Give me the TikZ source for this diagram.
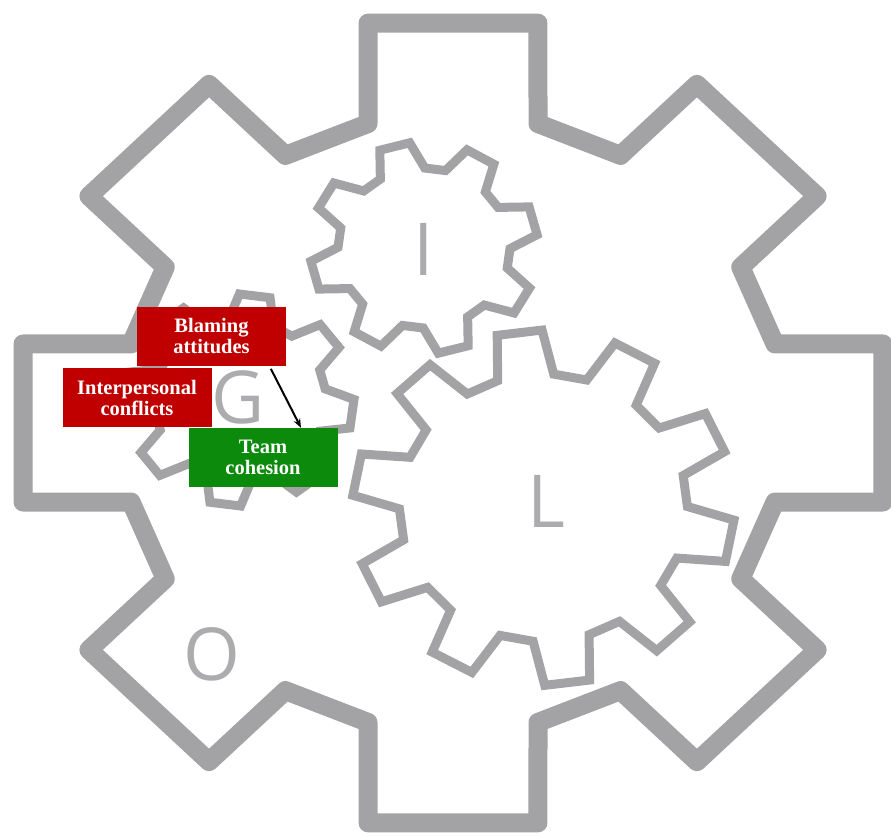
\documentclass[tikz,border=0pt]{standalone}
\usepackage{fontspec}
\usepackage{xcolor}
\usepackage{tikz}
\usetikzlibrary{arrows.meta}

\newfontfamily\boxfont{Liberation Serif}
\newfontfamily\letterfont{Open Sans}

\definecolor{cogray}{RGB}{163,163,165}
\definecolor{lettergray}{RGB}{172,172,175}
\definecolor{boxred}{RGB}{192,0,0}
\definecolor{boxgreen}{RGB}{12,138,12}

\tikzset{
    rim/.style={draw=cogray, line width=19pt, line join=round},
    cog/.style={draw=cogray, line width=9pt},
    letter/.style={text=lettergray, inner sep=0pt, font=\letterfont\fontsize{73}{73}\selectfont},
    factor/.style={text=white, align=center, inner sep=0pt, minimum width=149pt, minimum height=59pt,
        font=\boxfont\bfseries\fontsize{20.5}{21}\selectfont}
}

\begin{document}
\begin{tikzpicture}[x=1pt, y=1pt]
    \useasboundingbox (0,0) rectangle (891,836);

    % Organisation rim, 8 teeth
    \begin{scope}[shift={(453,413)}, yscale=0.93]
        \draw[rim] (112.5:330) \foreach \k in {0,...,7} {
            -- ({90-45*\k+14.79}:333) -- ({90-45*\k+11.18}:438.3)
            -- ({90-45*\k-11.18}:438.3) -- ({90-45*\k-14.79}:333)} -- cycle;
    \end{scope}

    % Individual gear
    \begin{scope}[shift={(424,588)}, yscale=0.93]
        \draw[cog] (127.5:85.4) \foreach \k in {0,...,7} {
            -- ({105-45*\k+15.5}:86) -- ({105-45*\k+7.8}:114)
            -- ({105-45*\k-7.8}:114) -- ({105-45*\k-15.5}:86)} -- cycle;
    \end{scope}

    % Group gear
    \begin{scope}[shift={(240,436)}, yscale=0.93]
        \draw[cog] (105:85.4) \foreach \k in {0,...,7} {
            -- ({82.5-45*\k+15.5}:86) -- ({82.5-45*\k+7.8}:114)
            -- ({82.5-45*\k-7.8}:114) -- ({82.5-45*\k-15.5}:86)} -- cycle;
    \end{scope}

    % Leader gear, 10 teeth
    \begin{scope}[shift={(543.4,328.3)}, yscale=0.93]
        \draw[cog] (115.2:143) \foreach \k in {0,...,9} {
            -- ({97.2-36*\k+11.3}:144) -- ({97.2-36*\k+6.8}:191)
            -- ({97.2-36*\k-6.8}:191) -- ({97.2-36*\k-11.3}:144)} -- cycle;
    \end{scope}

    % Letters
    \node[letter] (lI) at (424,587) {I};
    \node[letter] (lG) at (238,439) {G};
    \node[letter] (lL) at (546,335) {L};
    \node[letter] (lO) at (212,182) {O};

    % Factors
    \node[factor, fill=boxred] (blame) at (211.5,499.5) {Blaming\\attitudes};
    \node[factor, fill=boxred] (conflict) at (137,438) {Interpersonal\\conflicts};
    \node[factor, fill=boxgreen] (team) at (263,378.5) {Team\\cohesion};

    \draw[-{Stealth[length=9pt, width=7pt]}, line width=2pt, shorten <=3pt]
        ([xshift=58pt]blame.south) -- ([xshift=38pt]team.north);
\end{tikzpicture}
\end{document}
